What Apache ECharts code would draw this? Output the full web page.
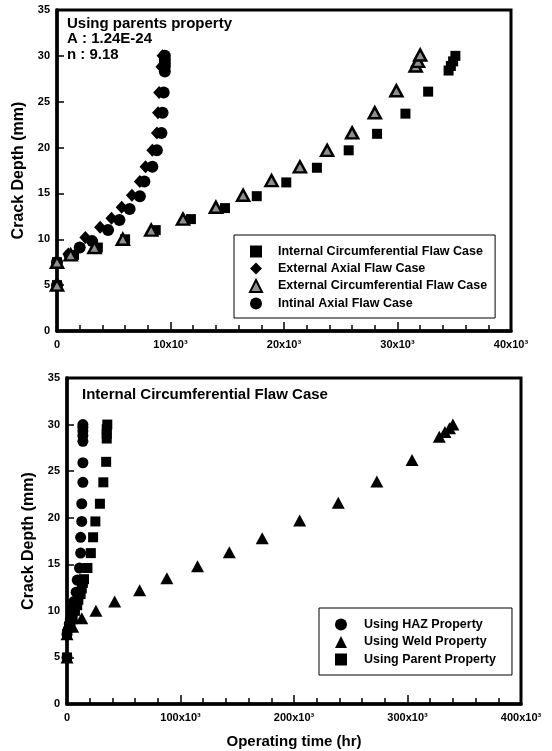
<!DOCTYPE html>
<html>
<head>
<meta charset="utf-8">
<script src="https://cdn.jsdelivr.net/npm/echarts@6/dist/echarts.min.js"></script>
<style>html,body{margin:0;padding:0;background:#fff}#c{width:552px;height:751px}</style>
</head>
<body>
<div id="c"></div>
<script>
// ---- Top chart (Using parents property) : [operating time (hr), crack depth (mm)]
var internalCircum = [[0,5],[0,7.5],[1500,8.3],[3600,9.1],[6000,10.0],[8700,11.0],[11800,12.2],[14800,13.4],[17600,14.7],[20200,16.2],[22900,17.8],[25700,19.7],[28200,21.5],[30700,23.7],[32700,26.1],[34500,28.4],[34700,28.9],[34900,29.4],[35100,30.0]];
var externalAxial = [[0,5],[0,7.5],[1000,8.4],[2500,10.2],[3800,11.3],[4800,12.3],[5700,13.5],[6600,14.8],[7300,16.3],[7800,17.9],[8400,19.7],[8800,21.6],[8900,23.8],[9000,26.0],[9200,28.8],[9300,30.0]];
var externalCircum = [[0,5],[0,7.5],[1200,8.3],[3300,9.1],[5800,10.0],[8300,11.0],[11100,12.2],[14000,13.5],[16400,14.8],[18900,16.4],[21400,17.9],[23800,19.7],[26000,21.6],[28000,23.8],[29900,26.2],[31600,28.9],[31800,29.4],[32000,30.1]];
var intinalAxial = [[0,5],[0,7.5],[1100,8.3],[2000,9.1],[3100,9.8],[4500,11.0],[5500,12.1],[6400,13.3],[7300,14.7],[7700,16.3],[8400,17.9],[8800,19.7],[9200,21.6],[9300,23.8],[9400,26.0],[9500,28.3],[9500,28.8],[9500,29.2],[9500,29.6],[9500,30.0]];
// ---- Bottom chart (Internal Circumferential Flaw Case)
var hazProp = [[0,5],[0,7.5],[1000,8.0],[2000,8.6],[3000,9.1],[4000,9.6],[5000,10.3],[6000,11.0],[8000,12.0],[9000,13.3],[11000,14.6],[12000,16.2],[12000,17.9],[13000,19.6],[13000,21.5],[14000,23.8],[14000,25.9],[14000,28.2],[14000,28.8],[14000,29.3],[14000,29.7],[14000,30.0]];
var weldProp = [[0,5],[0,7.5],[5000,8.3],[13000,9.2],[25500,10.0],[42000,11.0],[64000,12.2],[88000,13.5],[115000,14.8],[143000,16.3],[172000,17.8],[205000,19.7],[239000,21.6],[273000,23.9],[304000,26.2],[328000,28.7],[333000,29.2],[337000,29.6],[340000,30.0]];
var parentProp = [[0,5],[0,7.5],[3000,8.3],[5000,9.1],[7000,10.0],[9000,10.6],[10000,11.2],[12000,11.8],[13000,12.4],[14000,13.0],[15000,13.4],[18000,14.6],[21000,16.2],[23000,17.9],[25000,19.6],[29000,21.5],[32000,23.8],[34500,26.0],[35000,28.5],[35000,29.0],[35000,29.5],[35500,30.0]];
var topNames = ['Internal Circumferential Flaw Case','External Axial Flaw Case','External Circumferential Flaw Case','Intinal Axial Flaw Case'];
var botNames = ['Using HAZ Property','Using Weld Property','Using Parent Property'];
var topNote = ['Using parents property','A : 1.24E-24','n : 9.18'];
var botNote = 'Internal Circumferential Flaw Case';
var yTitle = 'Crack Depth (mm)';
var xTitle = 'Operating time (hr)';

var FONT = '"Liberation Sans", Arial, sans-serif';
function xfmt(v){ return v === 0 ? '0' : (v/1000) + 'x10\u00b3'; }
function xAxisDef(idx, max, interval){
  return {type:'value', gridIndex:idx, min:0, max:max, interval:interval,
    axisLine:{show:true, onZero:false, lineStyle:{color:'#000', width:3.5}},
    axisTick:{show:true, inside:true, length:9, lineStyle:{color:'#000', width:1.5}},
    minorTick:{show:true, splitNumber:5, length:6, lineStyle:{color:'#000', width:1.5}},
    splitLine:{show:false},
    axisLabel:{formatter:xfmt, color:'#000', fontFamily:FONT, fontWeight:'bold', fontSize:11, margin:8}};
}
function yAxisDef(idx){
  return {type:'value', gridIndex:idx, min:0, max:35, interval:5,
    name: yTitle, nameLocation:'middle', nameGap: idx===0 ? 28 : 27, nameRotate:90,
    nameTextStyle:{color:'#000', fontFamily:FONT, fontWeight:'bold', fontSize:16},
    axisLine:{show:true, onZero:false, lineStyle:{color:'#000', width:3.5}},
    axisTick:{show:true, inside:true, length:7, lineStyle:{color:'#000', width:1.5}},
    minorTick:{show:false},
    splitLine:{show:false},
    axisLabel:{color:'#000', fontFamily:FONT, fontWeight:'bold', fontSize:11, margin:7}};
}
var chart = echarts.init(document.getElementById('c'), null, {renderer:'canvas'});
var blk = {color:'#000', opacity:1};
var option = {
  backgroundColor:'#fff',
  animation:false,
  grid:[
    {left:57, right:41, top:10, height:321, show:true, borderColor:'#000', borderWidth:3, backgroundColor:'transparent'},
    {left:67, right:31, top:378, height:326, show:true, borderColor:'#000', borderWidth:3, backgroundColor:'transparent'}
  ],
  xAxis:[ xAxisDef(0, 40000, 10000), Object.assign(xAxisDef(1, 400000, 100000), {
      name:xTitle, nameLocation:'middle', nameGap:30,
      nameTextStyle:{color:'#000', fontFamily:FONT, fontWeight:'bold', fontSize:15}}) ],
  yAxis:[ yAxisDef(0), yAxisDef(1) ],
  legend:[
    {data:topNames, orient:'vertical', left:234, top:235, itemGap:4, itemWidth:12, itemHeight:12,
     padding:[10,8,8,15], borderColor:'#000', borderWidth:1,
     textStyle:{color:'#000', fontFamily:FONT, fontWeight:'bold', fontSize:12.5, padding:[0,0,0,11]}},
    {data:botNames, orient:'vertical', left:319, top:608, itemGap:4.5, itemWidth:12, itemHeight:12,
     padding:[10,16,9,16], borderColor:'#000', borderWidth:1,
     textStyle:{color:'#000', fontFamily:FONT, fontWeight:'bold', fontSize:12.5, padding:[0,0,0,12]}}
  ],
  graphic:[
    {type:'text', left:67, top:16, style:{text:topNote.join('\n'), fill:'#000', font:'bold 15px '+FONT, lineHeight:15.5}},
    {type:'text', left:82, top:387, style:{text:botNote, fill:'#000', font:'bold 15px '+FONT}}
  ],
  series:[
    {name:topNames[3], type:'scatter', xAxisIndex:0, yAxisIndex:0, symbol:'circle', symbolSize:12, data:intinalAxial, itemStyle:blk, z:3},
    {name:topNames[1], type:'scatter', xAxisIndex:0, yAxisIndex:0, symbol:'diamond', symbolSize:[12,13], data:externalAxial, itemStyle:blk, z:4},
    {name:topNames[0], type:'scatter', xAxisIndex:0, yAxisIndex:0, symbol:'rect', symbolSize:10, data:internalCircum, itemStyle:blk, z:3},
    {name:topNames[2], type:'scatter', xAxisIndex:0, yAxisIndex:0, symbol:'triangle', symbolSize:[12,11], data:externalCircum, itemStyle:{color:'#8f8f8f', borderColor:'#000', borderWidth:2.5, opacity:1}, z:5},
    {name:botNames[0], type:'scatter', xAxisIndex:1, yAxisIndex:1, symbol:'circle', symbolSize:11, data:hazProp, itemStyle:blk},
    {name:botNames[1], type:'scatter', xAxisIndex:1, yAxisIndex:1, symbol:'triangle', symbolSize:[13,12], data:weldProp, itemStyle:blk},
    {name:botNames[2], type:'scatter', xAxisIndex:1, yAxisIndex:1, symbol:'rect', symbolSize:10, data:parentProp, itemStyle:blk}
  ]
};
chart.setOption(option);
</script>
</body>
</html>
